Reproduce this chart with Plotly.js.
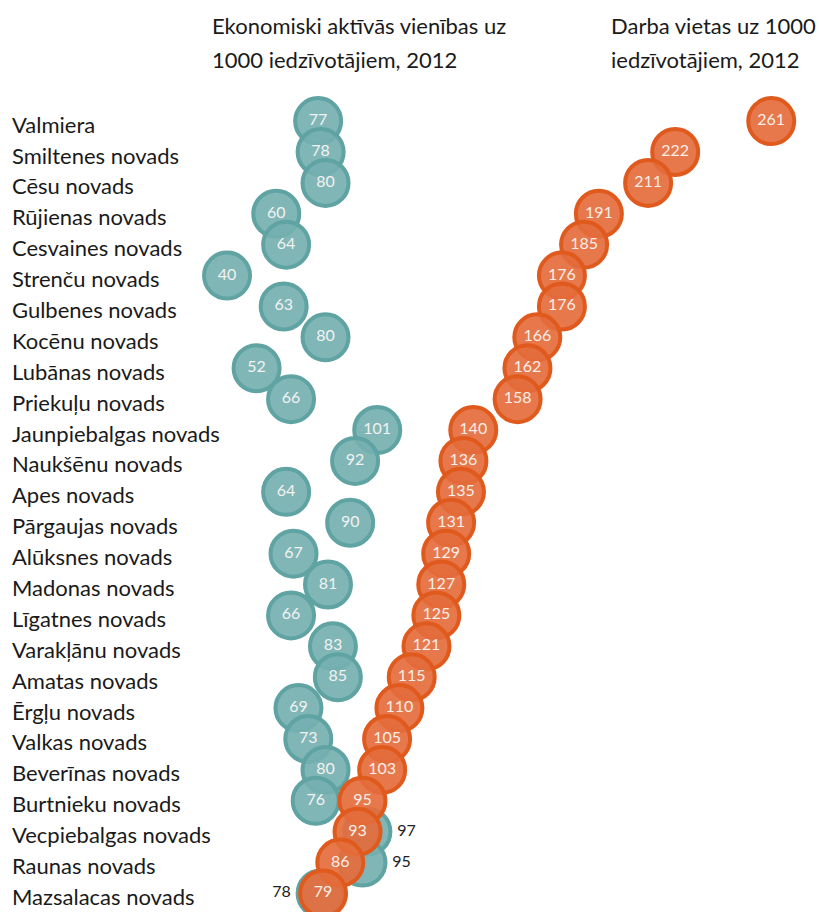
<!DOCTYPE html>
<html>
<head>
<meta charset="utf-8">
<script src="https://cdn.plot.ly/plotly-3.0.1.min.js"></script>
<style>html,body{margin:0;padding:0;background:#fff;}#chart{width:819px;height:912px;}</style>
</head>
<body>
<div id="chart"></div>
<script>
const categories = ["Valmiera","Smiltenes novads","Cēsu novads","Rūjienas novads","Cesvaines novads","Strenču novads","Gulbenes novads","Kocēnu novads","Lubānas novads","Priekuļu novads","Jaunpiebalgas novads","Naukšēnu novads","Apes novads","Pārgaujas novads","Alūksnes novads","Madonas novads","Līgatnes novads","Varakļānu novads","Amatas novads","Ērgļu novads","Valkas novads","Beverīnas novads","Burtnieku novads","Vecpiebalgas novads","Raunas novads","Mazsalacas novads"];
const econUnits = [77,78,80,60,64,40,63,80,52,66,101,92,64,90,67,81,66,83,85,69,73,80,76,97,95,78];
const jobs = [261,222,211,191,185,176,176,166,162,158,140,136,135,131,129,127,125,121,115,110,105,103,95,93,86,79];
const econTitle = ["Ekonomiski aktīvās vienības uz","1000 iedzīvotājiem, 2012"];
const jobsTitle = ["Darba vietas uz 1000","iedzīvotājiem, 2012"];
const econOutside = {"Vecpiebalgas novads":"middle right","Raunas novads":"middle right","Mazsalacas novads":"middle left"};

const FONT = "Lato, 'Open Sans', sans-serif";
const econPos = categories.map(c => econOutside[c] || "middle center");
const econColor = categories.map(c => econOutside[c] ? "#222" : "#f2f2f2");

const traces = [
  {
    type: "scatter", mode: "markers+text",
    x: econUnits, y: categories,
    text: econUnits.map(String),
    textposition: econPos,
    textfont: {family: FONT, size: 16, color: econColor},
    marker: {size: 46, color: "rgba(118,176,177,0.92)", line: {color: "#5fa3a2", width: 4}},
    hoverinfo: "x+y", cliponaxis: false
  },
  {
    type: "scatter", mode: "markers+text",
    x: jobs, y: categories,
    text: jobs.map(String),
    textposition: "middle center",
    textfont: {family: FONT, size: 16, color: "#f7eee8"},
    marker: {size: 46, color: "rgba(228,108,60,0.92)", line: {color: "#e05a1e", width: 4}},
    hoverinfo: "x+y", cliponaxis: false
  }
];

const annotations = [];
categories.forEach(c => annotations.push({
  xref: "x", yref: "y", x: -48, y: c, text: c, showarrow: false,
  xanchor: "left", yanchor: "middle", yshift: -3,
  font: {family: FONT, size: 22, color: "#1a1a1a"}
}));
econTitle.forEach((t, i) => annotations.push({
  xref: "paper", yref: "paper", x: 210/819, y: 1 - (25 + i*35)/912, text: t, showarrow: false,
  xanchor: "left", yanchor: "middle", font: {family: FONT, size: 22, color: "#1a1a1a"}
}));
jobsTitle.forEach((t, i) => annotations.push({
  xref: "paper", yref: "paper", x: 609/819, y: 1 - (25 + i*35)/912, text: t, showarrow: false,
  xanchor: "left", yanchor: "middle", font: {family: FONT, size: 22, color: "#1a1a1a"}
}));

const layout = {
  width: 819, height: 912,
  margin: {l: 0, r: 0, t: 0, b: 0},
  paper_bgcolor: "#fff", plot_bgcolor: "#fff",
  showlegend: false,
  xaxis: {range: [-52.2, 280.4], visible: false, fixedrange: true},
  yaxis: {type: "category", categoryarray: categories, range: [25.6, -3.92], visible: false, fixedrange: true},
  annotations: annotations,
  font: {family: FONT}
};

Plotly.newPlot("chart", traces, layout, {displayModeBar: false, staticPlot: true});
</script>
</body>
</html>
